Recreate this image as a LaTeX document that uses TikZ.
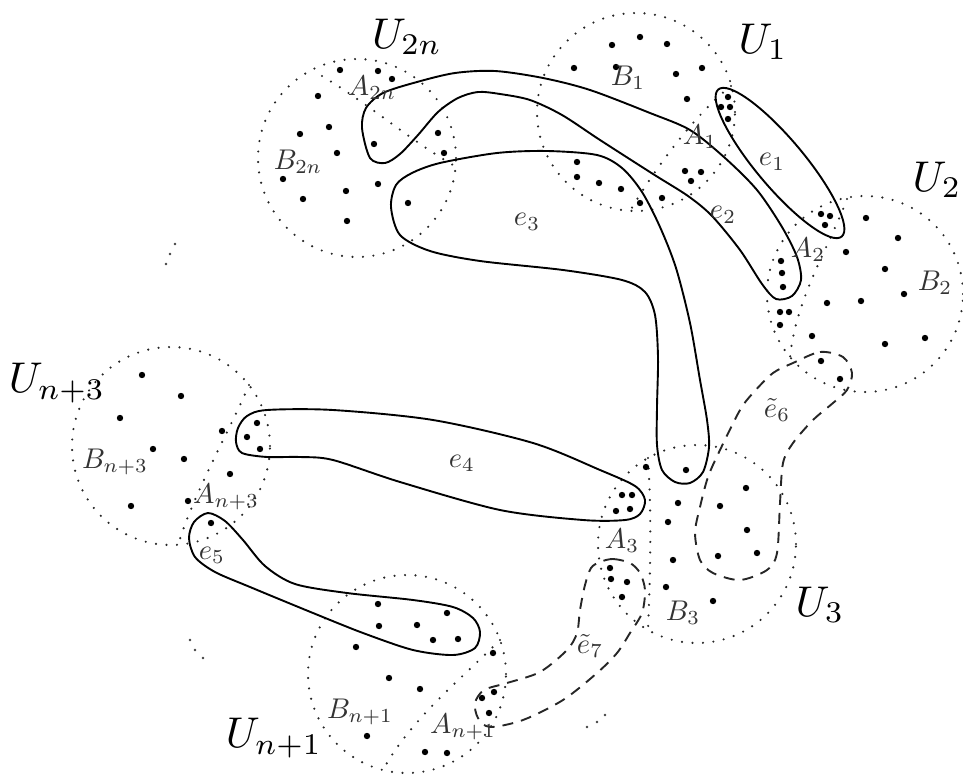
\documentclass[tikz,border=0pt]{standalone}
\begin{document}
\begin{tikzpicture}[x=1pt,y=-1pt,
  ucirc/.style={line width=2.4pt, line cap=round, dash pattern=on 0pt off 10.5pt, draw=black!85},
  hedge/.style={line width=1.9pt, draw=black},
  dedge/.style={line width=1.9pt, draw=black!85, dash pattern=on 11pt off 8pt},
  ulab/.style={font=\normalsize, scale=4.3, text=black, inner sep=0pt},
  slab/.style={font=\normalsize, scale=2.85, text=black!80, inner sep=0pt}]
\useasboundingbox (0,0) rectangle (963,781);

% --- U sets (dotted circles) ---
\draw[ucirc] (357,158) circle (99pt);
\draw[ucirc] (636,112) circle (99pt);
\draw[ucirc] (865,294) circle (98pt);
\draw[ucirc] (171,446) circle (99pt);
\draw[ucirc] (697,544) circle (99pt);
\draw[ucirc] (407,674) circle (99pt);

% --- A parts (dotted dividing curves) ---
\draw[ucirc] (322,76) .. controls (370,105) and (410,140) .. (453,165);
\draw[ucirc] (731,86) .. controls (700,110) and (660,160) .. (630,211);
\draw[ucirc] (847,199) .. controls (830,245) and (795,300) .. (790,358);
\draw[ucirc] (249,385) .. controls (230,430) and (195,490) .. (178,545);
\draw[ucirc] (648,458) .. controls (652,520) and (650,580) .. (648,630);
\draw[ucirc] (500,640) .. controls (460,680) and (410,720) .. (383,770);

% --- vertices ---
\foreach \x/\y in {340/70,378/71,392/79,318/96,329/127,300/134,374/144,337/153,438/133,444/153,283/179,378/184,346/191,303/199,347/221,408/203,
  640/37,612/45,667/44,574/68,616/67,676/74,702/68,687/99,728/97,721/107,730/107,728/119,685/171,701/172,691/181,577/162,577/177,599/183,621/189,640/203,662/198,
  821/214,830/216,825/225,781/261,782/273,783/287,780/312,789/312,780/325,866/218,898/238,885/269,904/294,861/301,827/303,812/336,885/344,925/338,846/252,821/361,840/379,
  142/375,181/396,120/418,153/449,184/459,131/506,188/501,222/431,230/474,257/423,247/437,260/449,211/523,
  646/467,686/470,622/495,632/495,616/511,630/509,678/503,668/522,720/506,746/488,747/530,673/560,718/556,757/553,666/587,713/601,610/568,611/579,627/582,622/597,
  378/604,447/613,379/626,417/625,433/640,458/639,356/647,389/678,420/689,493/653,482/698,494/692,489/713,367/736,425/752,447/753}
  \fill (\x,\y) circle (3.2pt);

% --- stray continuation dots ---
\foreach \x/\y in {175/244,170/254,166/264,190/640,195/650,203/658,605/715,597/722,587/727}
  \fill[black!75] (\x,\y) circle (1.3pt);

% --- hyperedges ---
\draw[hedge, rotate around={-50:(780,163)}] (780,163) ellipse (96pt and 24pt);
\draw[hedge] plot[smooth cycle] coordinates {(362,128) (366,108) (383,93) (417,82) (455,73) (495,71) (543,78) (590,90) (650,113) (690,130) (725,158) (757,190) (782,227) (797,257) (801,280) (792,296) (776,299) (762,284) (740,250) (712,216) (688,196) (653,174) (600,140) (562,115) (530,100) (500,94) (478,92) (458,98) (438,112) (418,135) (400,154) (385,163) (370,158)};
\draw[hedge] plot[smooth cycle] coordinates {(391,207) (396,185) (412,173) (440,163) (497,153) (547,151) (597,155) (622,168) (642,192) (660,227) (676,268) (690,323) (700,380) (707,420) (709,447) (703,472) (690,483) (675,482) (662,470) (657,445) (657,407) (658,357) (655,315) (645,292) (622,280) (563,270) (480,261) (430,251) (400,235)};
\draw[hedge] plot[smooth cycle] coordinates {(247,416) (267,410) (333,410) (433,420) (533,443) (600,470) (635,486) (645,500) (640,514) (625,520) (583,520) (500,510) (400,482) (333,460) (300,457) (267,457) (242,453) (236,442) (238,428)};
\draw[hedge] plot[smooth cycle] coordinates {(208,513) (225,521) (243,540) (265,566) (295,584) (347,593) (413,600) (453,607) (473,618) (480,632) (475,648) (453,655) (413,650) (363,633) (313,613) (250,587) (215,572) (195,557) (189,538) (194,522)};
\draw[dedge] plot[smooth cycle] coordinates {(793,363) (820,352) (843,357) (852,373) (847,390) (833,403) (813,420) (793,443) (783,463) (780,503) (777,553) (767,570) (740,580) (713,573) (700,560) (695,533) (700,507) (708,477) (720,450) (740,410) (753,393) (773,373)};
\draw[dedge] plot[smooth cycle] coordinates {(600,562) (613,559) (630,563) (640,573) (645,590) (642,613) (630,633) (617,653) (597,673) (563,700) (523,720) (490,727) (478,718) (475,703) (484,690) (507,683) (540,672) (567,650) (577,633) (580,610) (585,585) (591,568)};

% --- labels ---
\node[ulab] (lU2n) at (407,37) {$U_{2n}$};
\node[ulab] (lU1) at (763,42) {$U_1$};
\node[ulab] (lU2) at (937,180) {$U_2$};
\node[ulab, anchor=west] (lUn3) at (8,383) {$U_{n+3}$};
\node[ulab] (lU3) at (820,605) {$U_3$};
\node[ulab] (lUn1) at (274,738) {$U_{n+1}$};
\node[slab] (lB2n) at (298,162) {$B_{2n}$};
\node[slab] (lA2n) at (372,88) {$A_{2n}$};
\node[slab] (lB1) at (628,78) {$B_1$};
\node[slab] (lA1) at (700,137) {$A_1$};
\node[slab] (lB2) at (935,283) {$B_2$};
\node[slab] (lA2) at (808,250) {$A_2$};
\node[slab] (lBn3) at (115,462) {$B_{n+3}$};
\node[slab] (lAn3) at (226,497) {$A_{n+3}$};
\node[slab] (lA3) at (622,541) {$A_3$};
\node[slab] (lB3) at (683,613) {$B_3$};
\node[slab] (lBn1) at (360,712) {$B_{n+1}$};
\node[slab] (lAn1) at (463,727) {$A_{n+1}$};
\node[slab] (le1) at (772,162) {$e_1$};
\node[slab] (le2) at (723,215) {$e_2$};
\node[slab] (le3) at (527,222) {$e_3$};
\node[slab] (le4) at (462,463) {$e_4$};
\node[slab] (le5) at (212,555) {$e_5$};
\node[slab] (le6) at (777,410) {$\tilde{e}_6$};
\node[slab] (le7) at (590,646) {$\tilde{e}_7$};
\end{tikzpicture}
\end{document}
